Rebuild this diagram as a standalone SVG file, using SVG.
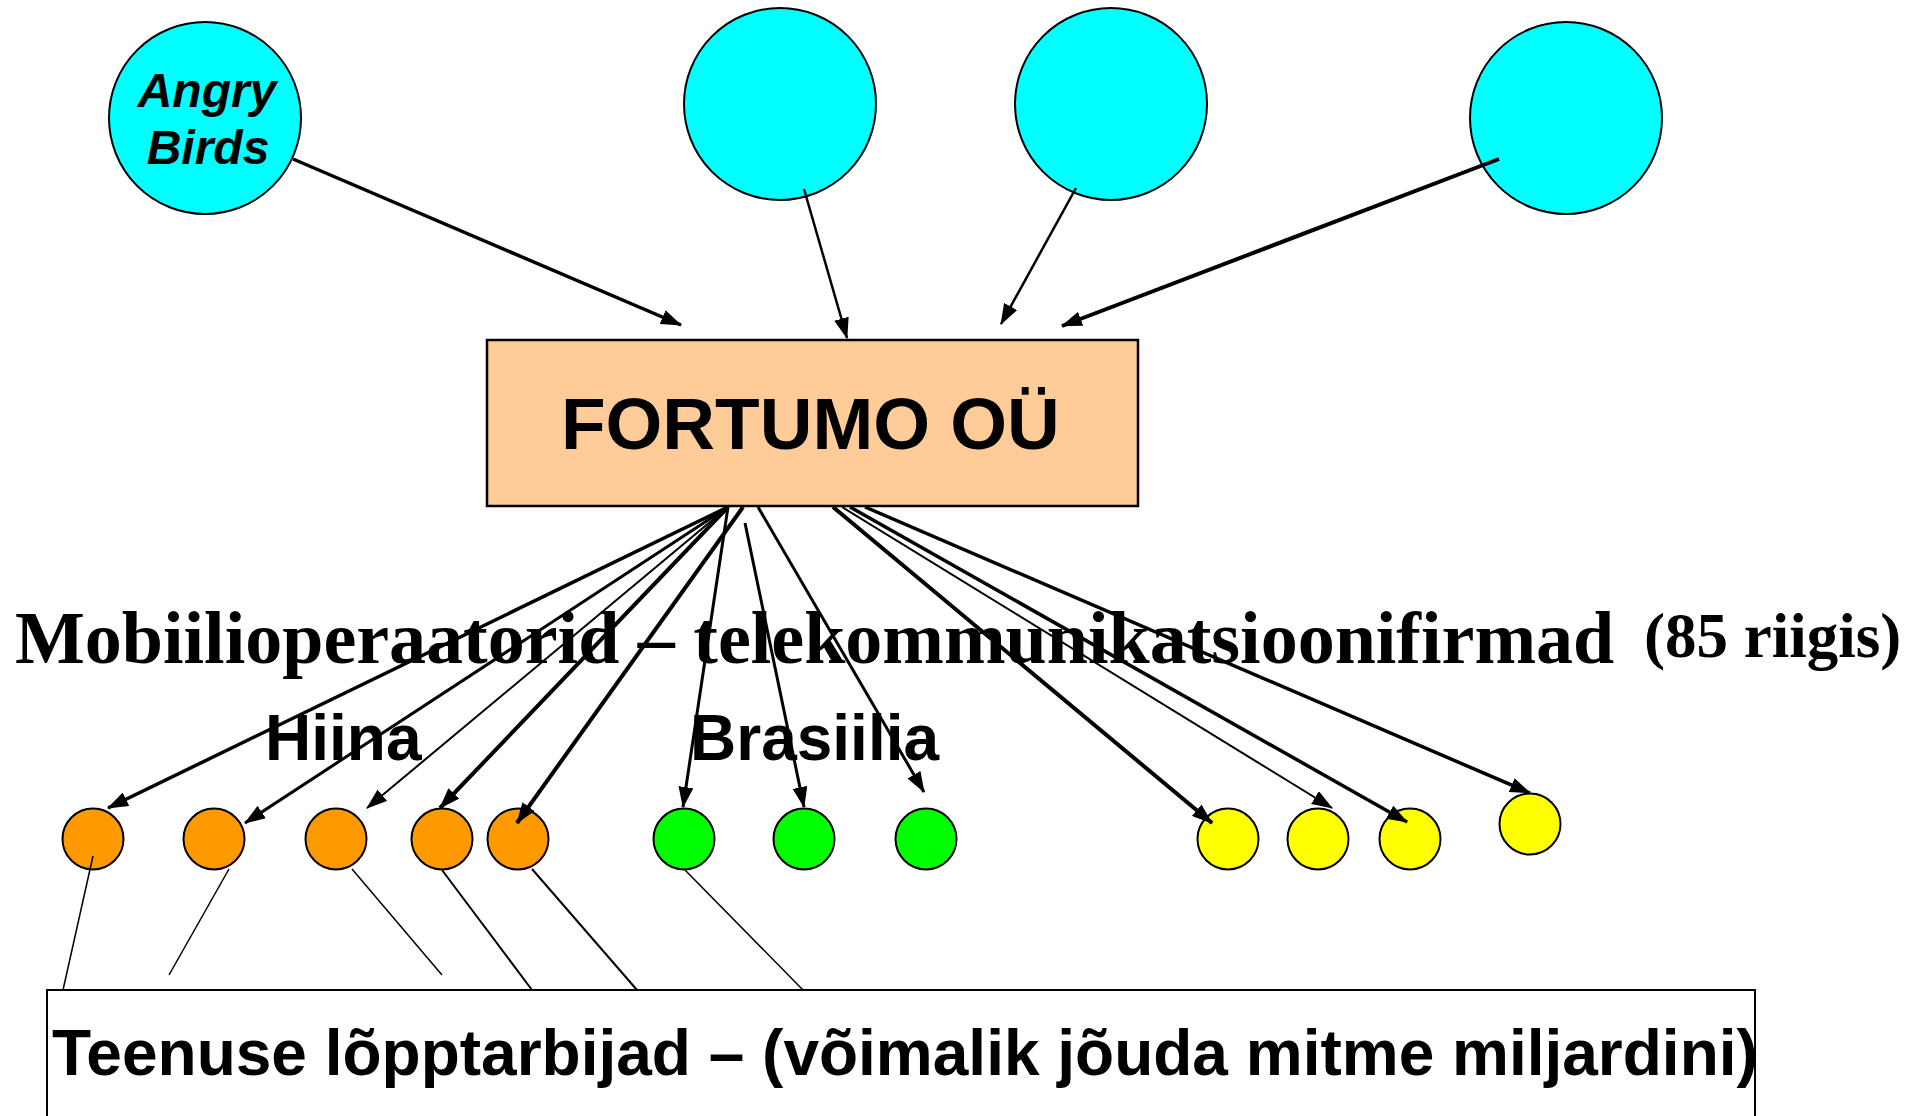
<svg xmlns="http://www.w3.org/2000/svg" width="1928" height="1116" viewBox="0 0 1928 1116">
  <style>
    .cyan { fill: #00FFFF; stroke: #000; stroke-width: 2; }
    .org { fill: #FF9900; stroke: #000; stroke-width: 2; }
    .grn { fill: #00FF00; stroke: #000; stroke-width: 2; }
    .yel { fill: #FFFF00; stroke: #000; stroke-width: 2; }
    .ln { stroke: #000; fill: none; }
    .sans { font-family: "Liberation Sans", Arial, sans-serif; font-weight: bold; fill: #000; }
    .serif { font-family: "Liberation Serif", "Times New Roman", serif; font-weight: bold; fill: #000; }
  </style>
  <defs>
    <marker id="arr" markerUnits="userSpaceOnUse" markerWidth="21" markerHeight="15" viewBox="0 0 21 15" refX="20" refY="7.5" orient="auto">
      <path d="M0,0 L21,7.5 L0,15 z" fill="#000"/>
    </marker>
  </defs>
  <rect width="1928" height="1116" fill="#fff"/>

  <!-- Title text -->
  <g id="label-mobiil">
    <text class="serif" x="15" y="663" font-size="74">Mobiilioperaatorid – telekommunikatsioonifirmad</text>
    <text class="serif" x="1644" y="657" font-size="63">(85 riigis)</text>
  </g>
  <g id="label-hiina"><text class="sans" x="265" y="760" font-size="64">Hiina</text></g>
  <g id="label-brasiilia"><text class="sans" x="690" y="760" font-size="64">Brasiilia</text></g>

  <!-- Top circles -->
  <g id="node-angrybirds">
    <circle class="cyan" cx="205" cy="118" r="96"/>
    <text class="sans" font-style="italic" font-size="48" x="207" y="107" text-anchor="middle">Angry</text>
    <text class="sans" font-style="italic" font-size="48" x="208" y="164" text-anchor="middle">Birds</text>
  </g>
  <g id="node-c2"><circle class="cyan" cx="780" cy="104" r="96"/></g>
  <g id="node-c3"><circle class="cyan" cx="1111" cy="104" r="96"/></g>
  <g id="node-c4"><circle class="cyan" cx="1566" cy="118" r="96"/></g>

  <!-- Fortumo -->
  <g id="node-fortumo">
    <rect x="487" y="340" width="651" height="166" fill="#FFCC99" stroke="#000" stroke-width="2.5"/>
    <text class="sans" x="561" y="449" font-size="73">FORTUMO OÜ</text>
  </g>

  <!-- Small circles -->
  <g id="node-o1"><circle class="org" cx="93" cy="839" r="30.5"/></g>
  <g id="node-o2"><circle class="org" cx="214" cy="839" r="30.5"/></g>
  <g id="node-o3"><circle class="org" cx="336" cy="839" r="30.5"/></g>
  <g id="node-o4"><circle class="org" cx="442" cy="839" r="30.5"/></g>
  <g id="node-o5"><circle class="org" cx="518" cy="839" r="30.5"/></g>
  <g id="node-g1"><circle class="grn" cx="684" cy="839" r="30.5"/></g>
  <g id="node-g2"><circle class="grn" cx="804" cy="839" r="30.5"/></g>
  <g id="node-g3"><circle class="grn" cx="926" cy="839" r="30.5"/></g>
  <g id="node-y1"><circle class="yel" cx="1228" cy="839" r="30.5"/></g>
  <g id="node-y2"><circle class="yel" cx="1318" cy="839" r="30.5"/></g>
  <g id="node-y3"><circle class="yel" cx="1410" cy="839" r="30.5"/></g>
  <g id="node-y4"><circle class="yel" cx="1530" cy="824" r="30.5"/></g>

  <!-- Bottom box -->
  <g id="node-consumers">
    <rect x="47" y="990" width="1708" height="140" fill="none" stroke="#000" stroke-width="2"/>
    <text class="sans" x="52" y="1075" font-size="64">Teenuse lõpptarbijad – (võimalik jõuda mitme miljardini)</text>
  </g>

  <!-- Connectors -->
  <g id="connectors" class="ln">
    <!-- top arrows -->
    <line x1="293" y1="159" x2="681" y2="325" stroke-width="3.5" marker-end="url(#arr)"/>
    <line x1="804" y1="189" x2="847" y2="338" stroke-width="2.5" marker-end="url(#arr)"/>
    <line x1="1076" y1="188" x2="1001" y2="324" stroke-width="2.5" marker-end="url(#arr)"/>
    <line x1="1499" y1="159" x2="1062" y2="326" stroke-width="4" marker-end="url(#arr)"/>

    <!-- fan to operators -->
    <line x1="728" y1="507" x2="108" y2="808" stroke-width="3.5" marker-end="url(#arr)"/>
    <line x1="728" y1="507" x2="245" y2="823" stroke-width="3" marker-end="url(#arr)"/>
    <line x1="728" y1="507" x2="367" y2="808" stroke-width="2" marker-end="url(#arr)"/>
    <line x1="728" y1="507" x2="440" y2="808" stroke-width="4" marker-end="url(#arr)"/>
    <line x1="743" y1="507" x2="517" y2="823" stroke-width="4" marker-end="url(#arr)"/>
    <line x1="728" y1="507" x2="683" y2="807" stroke-width="3" marker-end="url(#arr)"/>
    <line x1="745" y1="523" x2="804" y2="807" stroke-width="3" marker-end="url(#arr)"/>
    <line x1="758" y1="507" x2="924" y2="792" stroke-width="3" marker-end="url(#arr)"/>
    <line x1="833" y1="507" x2="1212" y2="823" stroke-width="4" marker-end="url(#arr)"/>
    <line x1="842" y1="507" x2="1332" y2="808" stroke-width="2" marker-end="url(#arr)"/>
    <line x1="850" y1="507" x2="1407" y2="822" stroke-width="3.5" marker-end="url(#arr)"/>
    <line x1="865" y1="507" x2="1530" y2="793" stroke-width="3.5" marker-end="url(#arr)"/>

    <!-- to consumers -->
    <line x1="93" y1="856" x2="63" y2="990" stroke-width="1.5"/>
    <line x1="229" y1="869" x2="169" y2="975" stroke-width="1.5"/>
    <line x1="352" y1="869" x2="442" y2="975" stroke-width="1.5"/>
    <line x1="442" y1="870" x2="532" y2="990" stroke-width="2"/>
    <line x1="532" y1="869" x2="637" y2="990" stroke-width="2"/>
    <line x1="685" y1="870" x2="803" y2="990" stroke-width="1.5"/>
  </g>
</svg>
